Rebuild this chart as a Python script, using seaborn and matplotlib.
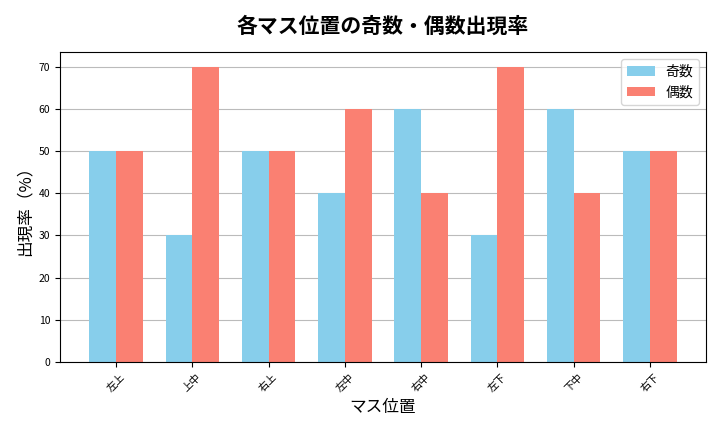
import matplotlib
matplotlib.use('Agg')
import matplotlib.pyplot as plt
import seaborn as sns
import pandas as pd

positions = ['左上', '上中', '右上', '左中', '右中', '左下', '下中', '右下']
odd_rate = [50, 30, 50, 40, 60, 30, 60, 50]
even_rate = [50, 70, 50, 60, 40, 70, 40, 50]
series_names = ['奇数', '偶数']

df = pd.DataFrame({
    'pos': positions * 2,
    'rate': odd_rate + even_rate,
    'kind': [series_names[0]] * len(positions) + [series_names[1]] * len(positions),
})

sns.set_style('white')
plt.rcParams['font.family'] = ['Noto Sans CJK JP', 'DejaVu Sans']
plt.rcParams['text.color'] = 'black'
plt.rcParams['axes.labelcolor'] = 'black'
plt.rcParams['xtick.color'] = 'black'
plt.rcParams['ytick.color'] = 'black'

fig, ax = plt.subplots(figsize=(7.2, 4.32), dpi=100)
sns.barplot(data=df, x='pos', y='rate', hue='kind', order=positions,
            hue_order=series_names, palette=['skyblue', 'salmon'],
            saturation=1, width=0.7, linewidth=0, ax=ax)

ax.set_xlim(-0.735, len(positions) - 1 + 0.735)
ax.set_title('各マス位置の奇数・偶数出現率', fontsize=15, fontweight='bold', pad=14)
ax.set_xlabel('マス位置', fontsize=12)
ax.set_ylabel('出現率（%）', fontsize=12)
ax.tick_params(axis='x', labelsize=7.5, rotation=45, length=3.5, bottom=True)
ax.tick_params(axis='y', labelsize=7.5, length=3.5, left=True)
ax.yaxis.grid(True, color='#bbbbbb', linewidth=0.8)
ax.set_axisbelow(True)
for s in ax.spines.values():
    s.set_visible(True)
    s.set_color('black')
    s.set_linewidth(0.8)
leg = ax.legend(title=None, loc='upper right', fontsize=10)

fig.subplots_adjust(left=60 / 720, right=706 / 720, top=1 - 52 / 432, bottom=1 - 362 / 432)
fig.savefig('out.png', dpi=100)
